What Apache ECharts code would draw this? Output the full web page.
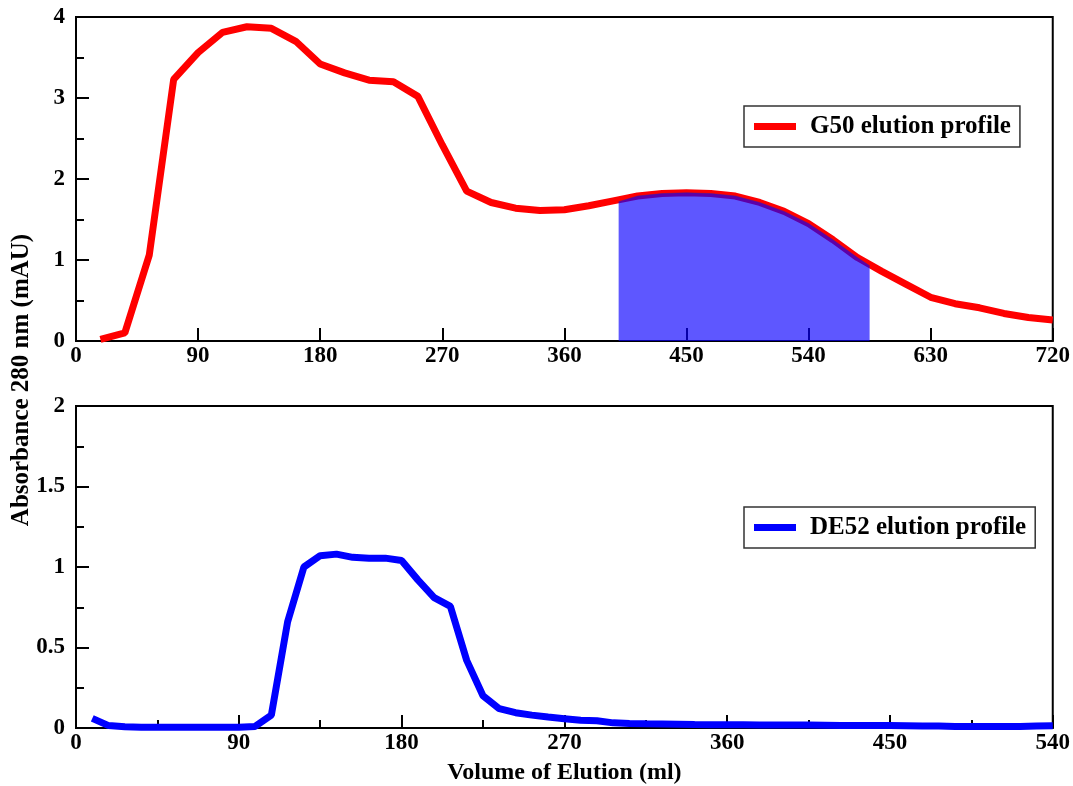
<!DOCTYPE html>
<html>
<head>
<meta charset="utf-8">
<script src="https://cdn.jsdelivr.net/npm/echarts@6/dist/echarts.min.js"></script>
<style>
html,body{margin:0;padding:0;background:#fff;}
#chart{width:1073px;height:786px;}
</style>
</head>
<body>
<div id="chart"></div>
<script>
// ---- Data ----
const g50Vol = [18,36,54,72,90,108,126,144,162,180,198,216,234,252,270,288,306,324,342,360,378,396,414,432,450,468,486,504,522,540,558,576,594,612,630,648,666,684,702,720];
const g50Abs = [0.02,0.10,1.06,3.23,3.56,3.81,3.88,3.86,3.70,3.42,3.31,3.22,3.20,3.02,2.42,1.85,1.71,1.64,1.61,1.62,1.67,1.73,1.79,1.82,1.83,1.82,1.79,1.71,1.60,1.45,1.25,1.03,0.86,0.70,0.54,0.46,0.41,0.34,0.29,0.26];

// shaded fraction boundaries (ml) and curve heights read at the boundaries
const shadeStart = 400, shadeStartAbs = 1.72;
const shadeEnd = 585, shadeEndAbs = 0.93;

const de52Vol = [9,18,27,36,45,54,63,72,81,90,99,108,117,126,135,144,153,162,171,180,189,198,207,216,225,234,243,252,261,270,279,288,297,306,315,324,333,342,351,360,369,378,387,396,405,414,423,432,441,450,459,468,477,486,495,504,513,522,531,540];
const de52Abs = [0.06,0.015,0.008,0.005,0.005,0.005,0.005,0.005,0.005,0.005,0.01,0.08,0.66,1.00,1.07,1.08,1.06,1.055,1.055,1.04,0.92,0.81,0.755,0.42,0.20,0.12,0.095,0.08,0.068,0.058,0.048,0.045,0.032,0.028,0.026,0.025,0.023,0.021,0.02,0.02,0.02,0.019,0.019,0.019,0.018,0.017,0.016,0.016,0.015,0.015,0.014,0.013,0.012,0.01,0.01,0.01,0.01,0.01,0.012,0.014];

const topXTicks = {min:0, max:720, interval:90};
const topYTicks = {min:0, max:4, interval:1};
const botXTicks = {min:0, max:540, interval:90};
const botYTicks = {min:0, max:2, interval:0.5};

// ---- Build ----
const g50Data = g50Vol.map((v,i)=>[v,g50Abs[i]]);
const shadeData = [[shadeStart,shadeStartAbs]]
  .concat(g50Data.filter(p=>p[0]>shadeStart && p[0]<shadeEnd))
  .concat([[shadeEnd,shadeEndAbs]]);
const de52Data = de52Vol.map((v,i)=>[v,de52Abs[i]]);

const FONT = '"Liberation Serif", "Times New Roman", serif';
const labelStyle = {color:'#000', fontFamily:FONT, fontWeight:'bold', fontSize:23};

function xAxis(gridIndex, t, minor, extra){
  return Object.assign({
    type:'value', gridIndex, min:t.min, max:t.max, interval:t.interval,
    axisLine:{show:true, onZero:false, lineStyle:{color:'#000', width:2}},
    axisTick:{show:true, inside:true, length:13, lineStyle:{color:'#000', width:2}},
    minorTick:{show:minor, splitNumber:2, length:8, lineStyle:{color:'#000', width:2}},
    splitLine:{show:false},
    axisLabel:Object.assign({margin:4}, labelStyle)
  }, extra||{});
}
function yAxis(gridIndex, t, splitNum){
  return {
    type:'value', gridIndex, min:t.min, max:t.max, interval:t.interval,
    axisLine:{show:true, onZero:false, lineStyle:{color:'#000', width:2}},
    axisTick:{show:true, inside:true, length:13, lineStyle:{color:'#000', width:2}},
    minorTick:{show:true, splitNumber:splitNum, length:8, lineStyle:{color:'#000', width:2}},
    splitLine:{show:false},
    axisLabel:Object.assign({margin:11}, labelStyle)
  };
}

const legendCommon = {
  orient:'vertical', left:744, borderColor:'#333', borderWidth:1.5,
  padding:[8,9,8,10], itemWidth:42, itemHeight:7, icon:'rect',
  textStyle:{color:'#000', fontFamily:FONT, fontWeight:'bold', fontSize:25, padding:[0,0,0,9]}
};

const option = {
  animation:false,
  backgroundColor:'#fff',
  grid:[
    {left:76, right:19, top:17, height:324, show:true, borderColor:'#000', borderWidth:2, backgroundColor:'transparent'},
    {left:76, right:19, top:406, height:323, show:true, borderColor:'#000', borderWidth:2, backgroundColor:'transparent'}
  ],
  xAxis:[
    xAxis(0, topXTicks, false),
    xAxis(1, botXTicks, true, {name:'Volume of Elution (ml)', nameLocation:'middle', nameGap:33,
      nameTextStyle:{color:'#000', fontFamily:FONT, fontWeight:'bold', fontSize:24}})
  ],
  yAxis:[
    yAxis(0, topYTicks, 2),
    yAxis(1, botYTicks, 2)
  ],
  legend:[
    Object.assign({data:['G50 elution profile'], top:106}, legendCommon),
    Object.assign({data:['DE52 elution profile'], top:507}, legendCommon)
  ],
  graphic:[{
    type:'text', x:22, y:380, rotation:Math.PI/2,
    style:{text:'Absorbance 280 nm (mAU)', fill:'#000', font:'bold 25px '+FONT, textAlign:'center', textVerticalAlign:'middle'}
  }],
  series:[
    {name:'G50 elution profile', type:'line', xAxisIndex:0, yAxisIndex:0, data:g50Data,
      showSymbol:false, symbol:'none', lineStyle:{color:'#ff0000', width:7}, itemStyle:{color:'#ff0000'}, z:2},
    {name:'shade', type:'line', xAxisIndex:0, yAxisIndex:0, data:shadeData,
      showSymbol:false, symbol:'none', lineStyle:{width:0.8, color:'rgba(60,30,160,0.6)'},
      areaStyle:{color:'rgba(10,0,255,0.66)', opacity:1, origin:'start'}, z:3, silent:true},
    {name:'DE52 elution profile', type:'line', xAxisIndex:1, yAxisIndex:1, data:de52Data,
      showSymbol:false, symbol:'none', lineStyle:{color:'#0000ff', width:7}, itemStyle:{color:'#0000ff'}, z:2}
  ]
};

const chart = echarts.init(document.getElementById('chart'), null, {renderer:'canvas'});
chart.setOption(option);
</script>
</body>
</html>
